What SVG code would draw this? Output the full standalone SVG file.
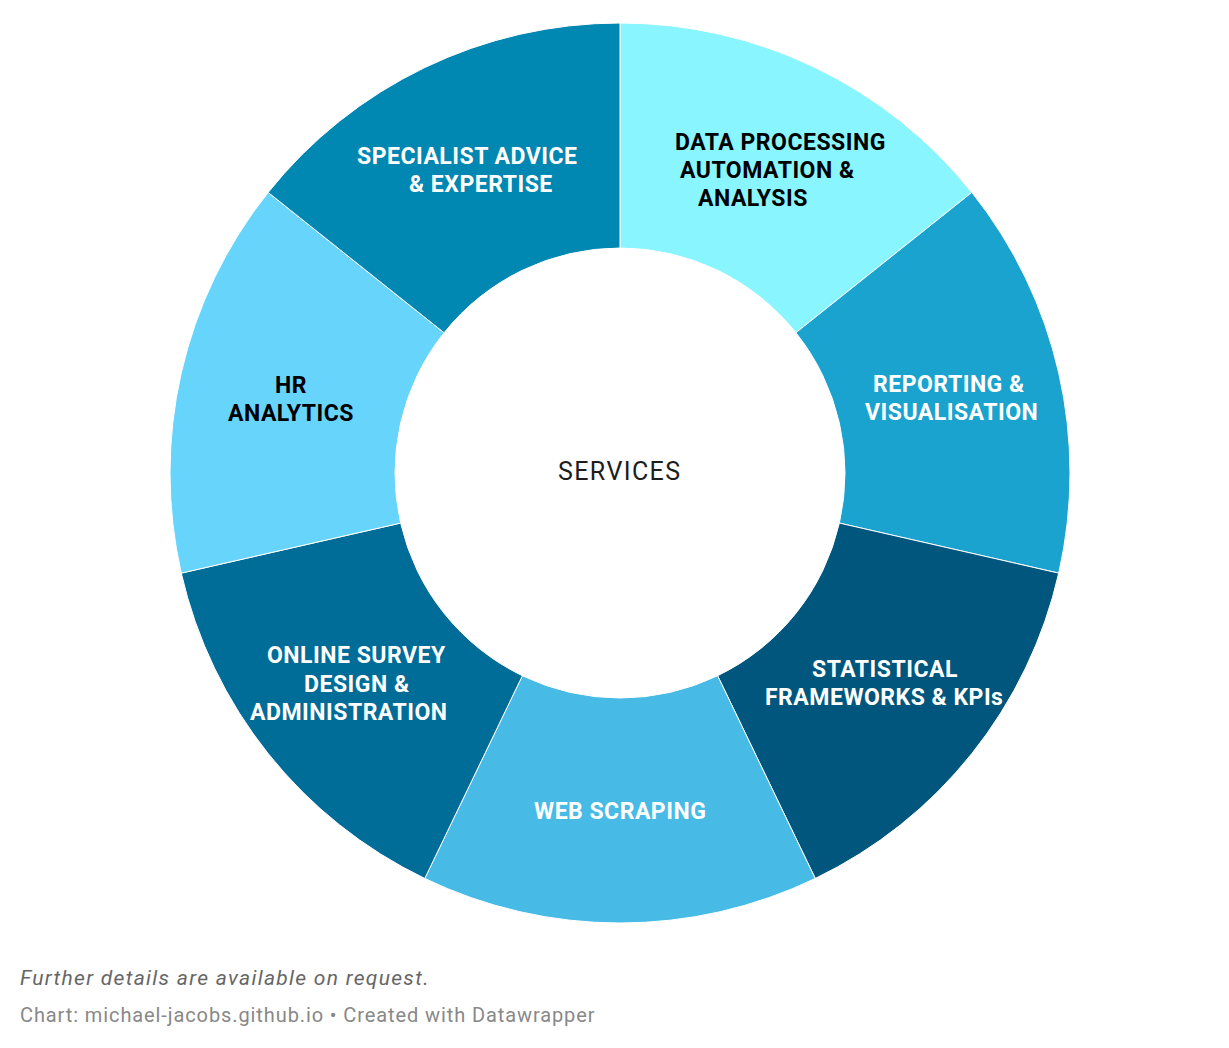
<svg xmlns="http://www.w3.org/2000/svg" width="1229" height="1048" viewBox="0 0 1229 1048">
<style>
.seg{stroke:#ffffff;stroke-width:1}
.lbl{font-family:Roboto,"Liberation Sans",sans-serif;font-weight:700;font-size:23px;letter-spacing:0.5px}
.w{fill:#ffffff}
.k{fill:#000000}
.center{font-family:Roboto,"Liberation Sans",sans-serif;font-size:25px;letter-spacing:1.4px;fill:#1d1d1d}
.note{font-family:Roboto,"Liberation Sans",sans-serif;font-style:italic;font-size:21px;letter-spacing:1.3px;fill:#666666}
.credit{font-family:Roboto,"Liberation Sans",sans-serif;font-size:20px;letter-spacing:0.9px;fill:#888888}
</style>
<rect width="1229" height="1048" fill="#ffffff"/>
<g id="segment-data-processing">
<path class="seg" fill="#89f5fe" d="M620,23 A450,450 0 0 1 971.82,192.43 L795.91,332.72 A225,225 0 0 0 620,248 Z"/>
<text class="lbl k" x="675" y="149.5">DATA PROCESSING</text>
<text class="lbl k" x="680" y="177.5">AUTOMATION &amp;</text>
<text class="lbl k" x="698" y="205.5">ANALYSIS</text>
</g>
<g id="segment-reporting">
<path class="seg" fill="#1aa3cf" d="M971.82,192.43 A450,450 0 0 1 1058.72,573.13 L839.36,523.07 A225,225 0 0 0 795.91,332.72 Z"/>
<text class="lbl w" x="873" y="392">REPORTING &amp;</text>
<text class="lbl w" x="865" y="420">VISUALISATION</text>
</g>
<g id="segment-statistical">
<path class="seg" fill="#00567c" d="M1058.72,573.13 A450,450 0 0 1 815.25,878.44 L717.62,675.72 A225,225 0 0 0 839.36,523.07 Z"/>
<text class="lbl w" x="812" y="677">STATISTICAL</text>
<text class="lbl w" x="765" y="705">FRAMEWORKS &amp; KPIs</text>
</g>
<g id="segment-web-scraping">
<path class="seg" fill="#47bbe6" d="M815.25,878.44 A450,450 0 0 1 424.75,878.44 L522.38,675.72 A225,225 0 0 0 717.62,675.72 Z"/>
<text class="lbl w" x="534" y="818.5">WEB SCRAPING</text>
</g>
<g id="segment-online-survey">
<path class="seg" fill="#006c98" d="M424.75,878.44 A450,450 0 0 1 181.28,573.13 L400.64,523.07 A225,225 0 0 0 522.38,675.72 Z"/>
<text class="lbl w" x="267" y="663">ONLINE SURVEY</text>
<text class="lbl w" x="304" y="691.5">DESIGN &amp;</text>
<text class="lbl w" x="250" y="719.5">ADMINISTRATION</text>
</g>
<g id="segment-hr-analytics">
<path class="seg" fill="#67d4fc" d="M181.28,573.13 A450,450 0 0 1 268.18,192.43 L444.09,332.72 A225,225 0 0 0 400.64,523.07 Z"/>
<text class="lbl k" x="275" y="393">HR</text>
<text class="lbl k" x="228" y="421">ANALYTICS</text>
</g>
<g id="segment-specialist-advice">
<path class="seg" fill="#0087b2" d="M268.18,192.43 A450,450 0 0 1 620,23 L620,248 A225,225 0 0 0 444.09,332.72 Z"/>
<text class="lbl w" x="357" y="163.5">SPECIALIST ADVICE</text>
<text class="lbl w" x="409" y="191.5">&amp; EXPERTISE</text>
</g>
<g id="connectors"></g>
<g id="center-label">
<text class="center" x="558" y="480">SERVICES</text>
</g>
<text class="note" x="20" y="984.5">Further details are available on request.</text>
<text class="credit" x="20" y="1021.5">Chart: michael-jacobs.github.io • Created with Datawrapper</text>
</svg>
